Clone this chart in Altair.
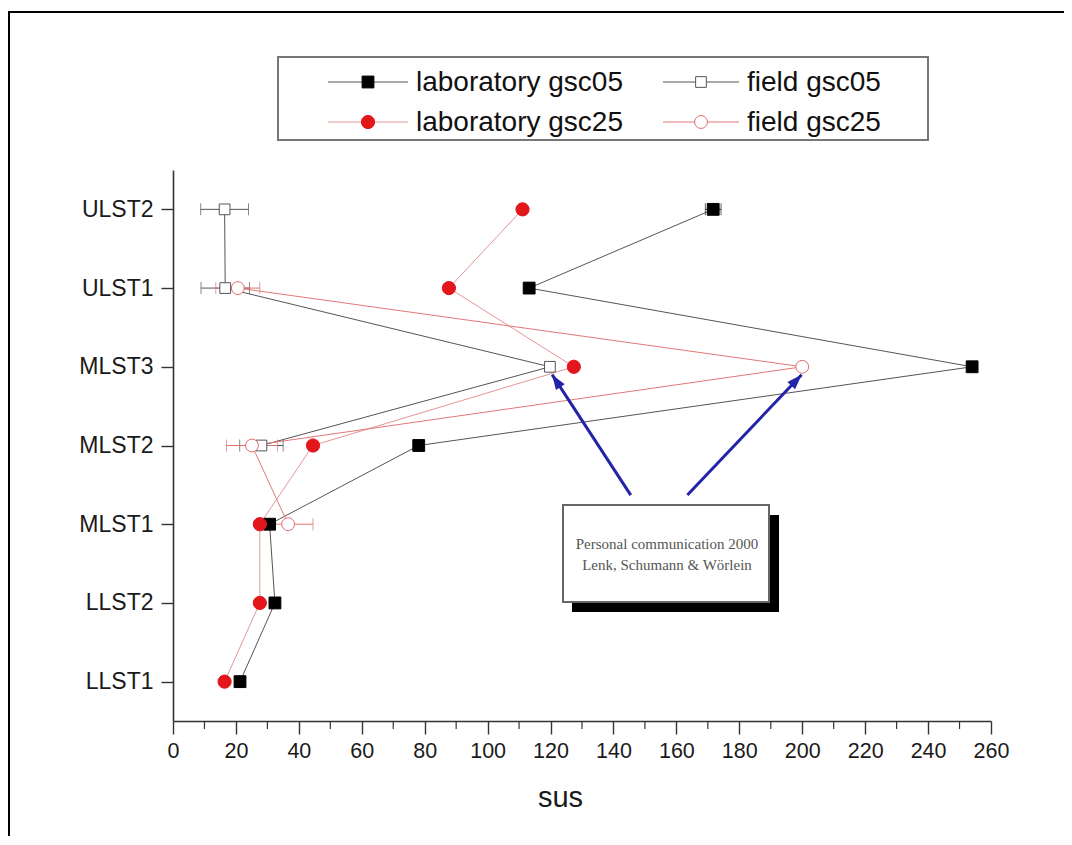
import math
import altair as alt
import pandas as pd

# ---------------- data ----------------
categories = ["LLST1", "LLST2", "MLST1", "MLST2", "MLST3", "ULST1", "ULST2"]

lab_gsc05 = [21.3, 32.4, 30.7, 78.1, 254.0, 113.2, 171.7]
lab_gsc05_err = [None, None, None, None, None, None, 2.5]

lab_gsc25 = [16.4, 27.6, 27.6, 44.5, 127.4, 87.7, 111.1]
lab_gsc25_err = [None, None, None, None, None, None, None]

field_gsc05 = [None, None, None, 28.1, 119.8, 16.6, 16.4]
field_gsc05_err = [None, None, None, 6.9, None, 7.7, 7.6]

field_gsc25 = [None, None, 36.6, 25.1, 200.0, 20.6, None]
field_gsc25_err = [None, None, 7.9, 8.1, None, 7.0, None]

series_names = ["laboratory gsc05", "field gsc05", "laboratory gsc25", "field gsc25"]

x_ticks = [0, 20, 40, 60, 80, 100, 120, 140, 160, 180, 200, 220, 240, 260]
x_minor = [10, 30, 50, 70, 90, 110, 130, 150, 170, 190, 210, 230, 250]

note_lines = ["Personal communication 2000", "Lenk, Schumann & Wörlein"]
arrow_x0 = [145.5, 163.5]
arrow_y0 = [3.37, 3.37]
arrow_x1 = [120.5, 199.8]
arrow_y1 = [4.90, 4.90]

# ---------------- geometry / styles ----------------
W, H = 818, 551
X_MAX = 260
Y_LO, Y_HI = 0.5, 7.5

styles = {
    "laboratory gsc05": dict(shape="square", fill="#000000", stroke="#000000", size=140, line="#555555", err="#222222"),
    "laboratory gsc25": dict(shape="circle", fill="#e3161c", stroke="#e3161c", size=175, line="#e59595", err="#e3161c"),
    "field gsc05": dict(shape="square", fill="#ffffff", stroke="#555555", size=115, line="#555555", err="#555555"),
    "field gsc25": dict(shape="circle", fill="#ffffff", stroke="#e06a6a", size=165, line="#e27878", err="#e07070"),
}

series_data = {
    "laboratory gsc05": (lab_gsc05, lab_gsc05_err),
    "laboratory gsc25": (lab_gsc25, lab_gsc25_err),
    "field gsc05": (field_gsc05, field_gsc05_err),
    "field gsc25": (field_gsc25, field_gsc25_err),
}


def build_df(values, errs):
    rows = []
    for i, (cat, v, e) in enumerate(zip(categories, values, errs)):
        if v is None:
            continue
        rows.append(dict(cat=cat, idx=i + 1, x=v,
                         lo=(v - e) if e is not None else None,
                         hi=(v + e) if e is not None else None))
    return pd.DataFrame(rows)


label_expr = "[" + ",".join(["''"] + [f"'{c}'" for c in categories]) + "][datum.value]"

x_scale = alt.Scale(domain=[0, X_MAX], nice=False, zero=False)
y_scale = alt.Scale(domain=[Y_LO, Y_HI], nice=False, zero=False)

x_axis = alt.Axis(values=x_ticks, title="sus", grid=False, tickSize=13, labelPadding=6,
                  labelFontSize=21.5, titleFontSize=29, titlePadding=22, labelFlush=False,
                  titleX=387)
y_axis = alt.Axis(values=list(range(1, len(categories) + 1)), labelExpr=label_expr, title=None,
                  grid=False, tickSize=12, labelPadding=8, labelFontSize=23)

line_layers, err_layers, pt_layers = [], [], []
for name in ["laboratory gsc05", "laboratory gsc25", "field gsc05", "field gsc25"]:
    vals, errs = series_data[name]
    df = build_df(vals, errs)
    st = styles[name]
    base = alt.Chart(df)
    line_layers.append(
        base.mark_line(color=st["line"], strokeWidth=1).encode(
            x=alt.X("x:Q", scale=x_scale, axis=x_axis),
            y=alt.Y("idx:Q", scale=y_scale, axis=y_axis),
            order="idx:Q",
        )
    )
    edf = df.dropna(subset=["lo"])
    if len(edf):
        eb = alt.Chart(edf)
        err_layers.append(
            eb.mark_rule(color=st["err"], strokeWidth=1).encode(
                x=alt.X("lo:Q", scale=x_scale, axis=x_axis), x2="hi:Q",
                y=alt.Y("idx:Q", scale=y_scale, axis=y_axis))
        )
        for f in ["lo", "hi"]:
            err_layers.append(
                eb.mark_tick(color=st["err"], orient="vertical", size=12, thickness=1).encode(
                    x=alt.X(f"{f}:Q", scale=x_scale, axis=x_axis),
                    y=alt.Y("idx:Q", scale=y_scale, axis=y_axis))
            )
    pt_layers.append(
        base.mark_point(shape=st["shape"], filled=True, fill=st["fill"], stroke=st["stroke"],
                        strokeWidth=1, size=st["size"], opacity=1).encode(
            x=alt.X("x:Q", scale=x_scale, axis=x_axis),
            y=alt.Y("idx:Q", scale=y_scale, axis=y_axis))
    )

# minor ticks on x axis
minor = alt.Chart(pd.DataFrame({"m": x_minor})).mark_rule(color="#333333", strokeWidth=1.2).encode(
    x=alt.X("m:Q", scale=x_scale, axis=x_axis), y=alt.value(H), y2=alt.value(H + 8))

one = pd.DataFrame({"k": [0]})

# outer frame
frame = alt.Chart(one).mark_rect(fillOpacity=0, stroke="#000000", strokeWidth=2).encode(
    x=alt.value(-164), x2=alt.value(1200), y=alt.value(-158), y2=alt.value(1000))

# legend (manual, inside a box above the plot)
legend_layers = [
    alt.Chart(one).mark_rect(fill="#ffffff", stroke="#777777", strokeWidth=2).encode(
        x=alt.value(105), x2=alt.value(755), y=alt.value(-113), y2=alt.value(-30))
]
col_line = [(155, 235), (490, 566)]
col_text = [243, 574]
row_y = [-88, -48]
for k, name in enumerate(series_names):
    c, r = k % 2, k // 2
    st = styles[name]
    x0, x1 = col_line[c]
    y = row_y[r]
    legend_layers.append(alt.Chart(one).mark_rule(color=st["line"], strokeWidth=1.1).encode(
        x=alt.value(x0), x2=alt.value(x1), y=alt.value(y)))
    legend_layers.append(alt.Chart(one).mark_point(
        shape=st["shape"], filled=True, fill=st["fill"], stroke=st["stroke"], strokeWidth=1,
        size=st["size"], opacity=1).encode(x=alt.value((x0 + x1) / 2), y=alt.value(y)))
    legend_layers.append(alt.Chart(pd.DataFrame({"t": [name]})).mark_text(
        align="left", baseline="middle", font="Liberation Sans", fontSize=28, color="#111111").encode(
        x=alt.value(col_text[c]), y=alt.value(y + 1), text="t:N"))

# annotation box with shadow
shadow = alt.Chart(one).mark_rect(fill="#000000").encode(
    x=alt.value(399), x2=alt.value(606), y=alt.value(345), y2=alt.value(442))
box = alt.Chart(one).mark_rect(fill="#ffffff", stroke="#666666", strokeWidth=2).encode(
    x=alt.value(390), x2=alt.value(596), y=alt.value(335), y2=alt.value(432))
note_l1 = alt.Chart(pd.DataFrame({"t": [note_lines[0]]})).mark_text(
    align="center", baseline="middle", font="Liberation Serif", fontSize=15, color="#555555").encode(
    x=alt.value(494), y=alt.value(374), text="t:N")
note_l2 = alt.Chart(pd.DataFrame({"t": [note_lines[1]]})).mark_text(
    align="center", baseline="middle", font="Liberation Serif", fontSize=15, color="#555555").encode(
    x=alt.value(494), y=alt.value(395), text="t:N")

# arrows
px_x = W / X_MAX
px_y = H / (Y_HI - Y_LO)
angles = []
for a, b, c, d in zip(arrow_x0, arrow_y0, arrow_x1, arrow_y1):
    dx = (c - a) * px_x
    dy = -(d - b) * px_y
    angles.append(math.degrees(math.atan2(dx, -dy)) % 360)
arr_df = pd.DataFrame({"x0": arrow_x0, "y0": arrow_y0, "x1": arrow_x1, "y1": arrow_y1, "ang": angles})
arrow_lines = alt.Chart(arr_df).mark_rule(color="#2323a8", strokeWidth=3).encode(
    x=alt.X("x0:Q", scale=x_scale, axis=x_axis), x2="x1:Q",
    y=alt.Y("y0:Q", scale=y_scale, axis=y_axis), y2="y1:Q")
arrow_heads = alt.Chart(arr_df).mark_point(
    shape="M0,0L0.35,1L-0.35,1Z", filled=True, color="#2323a8", size=900, opacity=1).encode(
    x=alt.X("x1:Q", scale=x_scale, axis=x_axis),
    y=alt.Y("y1:Q", scale=y_scale, axis=y_axis),
    angle=alt.Angle("ang:Q", scale=None))

chart = alt.layer(
    frame, *legend_layers, minor, *line_layers, *err_layers, *pt_layers,
    arrow_lines, arrow_heads, shadow, box, note_l1, note_l2,
).properties(
    width=W, height=H,
    padding={"left": 165, "top": 162, "right": 73, "bottom": 115},
    autosize=alt.AutoSizeParams(type="none"),
).configure_view(stroke=None).configure_axis(
    domainColor="#333333", domainWidth=1.6, tickColor="#333333", tickWidth=1.4,
    labelFont="Liberation Sans", titleFont="Liberation Sans", labelColor="#1a1a1a",
    titleColor="#1a1a1a", titleFontWeight="normal",
)

chart.save("out.html", embed_options={"renderer": "svg", "actions": False})
